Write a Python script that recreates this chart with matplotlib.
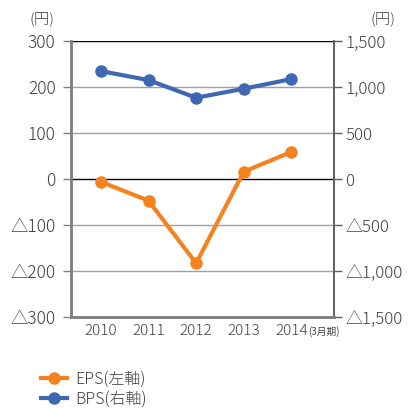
import matplotlib.pyplot as plt
from matplotlib.lines import Line2D

plt.rcParams['font.family'] = ['Noto Sans CJK JP', 'DejaVu Sans']

years = ['2010', '2011', '2012', '2013', '2014']
eps = [-6, -47, -183, 16, 59]
bps = [1174, 1076, 884, 982, 1087]

left_ticks = [300, 200, 100, 0, -100, -200, -300]
left_labels = ['300', '200', '100', '0', '△100', '△200', '△300']
right_ticks = [1500, 1000, 500, 0, -500, -1000, -1500]
right_labels = ['1,500', '1,000', '500', '0', '△500', '△1,000', '△1,500']

orange = '#f58220'
blue = '#4068b2'
txt = '#404040'

fig = plt.figure(figsize=(4.1, 4.15), dpi=100)
ax = fig.add_axes([0.173, 0.236, 0.642, 0.665])
ax2 = ax.twinx()

x = list(range(len(years)))

for t in left_ticks:
    if t in (0, 300):
        ax.axhline(t, color='black', lw=1.0, zorder=1)
    else:
        ax.axhline(t, color='#a0a0a0', lw=1.0, zorder=1)

ax.plot(x, eps, color=orange, lw=3, marker='o', ms=8, zorder=3)
ax2.plot(x, bps, color=blue, lw=3, marker='o', ms=8, zorder=3)

ax.set_xlim(-0.63, 4.9)
ax.set_ylim(-300, 300)
ax2.set_ylim(-1500, 1500)

ax.set_yticks(left_ticks)
ax.set_yticklabels(left_labels, fontsize=12.5, color=txt, fontweight='light')
ax2.set_yticks(right_ticks)
ax2.set_yticklabels(right_labels, fontsize=12.2, color=txt, fontweight='light')
ax.set_xticks(x)
ax.set_xticklabels(years, fontsize=11, color=txt, fontweight='light')

ax.tick_params(axis='y', length=6, width=1, color='#808080', pad=5)
ax2.tick_params(axis='y', length=6, width=1, color='#606060', pad=2)
ax.tick_params(axis='x', length=0, pad=5)

for a in (ax, ax2):
    a.spines['top'].set_visible(False)
    a.spines['left'].set_color('#808080')
    a.spines['left'].set_linewidth(1.8)
    a.spines['bottom'].set_color('#808080')
    a.spines['bottom'].set_linewidth(1.8)
    a.spines['right'].set_color('#606060')
    a.spines['right'].set_linewidth(1.2)

fig.text(0.102, 0.955, '(円)', fontsize=11, color=txt, ha='center', va='center', fontweight='light')
fig.text(0.935, 0.955, '(円)', fontsize=11, color=txt, ha='center', va='center', fontweight='light')
fig.text(0.752, 0.2, '(3月期)', fontsize=7, color=txt, ha='left', va='center')

handles = [
    Line2D([], [], color=orange, lw=3, marker='o', ms=8),
    Line2D([], [], color=blue, lw=3, marker='o', ms=8),
]
fig.legend(handles, ['EPS(左軸)', 'BPS(右軸)'], loc='upper left',
           bbox_to_anchor=(0.085, 0.123), frameon=False,
           prop={'size': 11.5, 'weight': 'light'},
           labelcolor=txt, handlelength=1.6, handletextpad=0.5,
           labelspacing=0.2, borderaxespad=0)

fig.savefig('out.png', dpi=100)
